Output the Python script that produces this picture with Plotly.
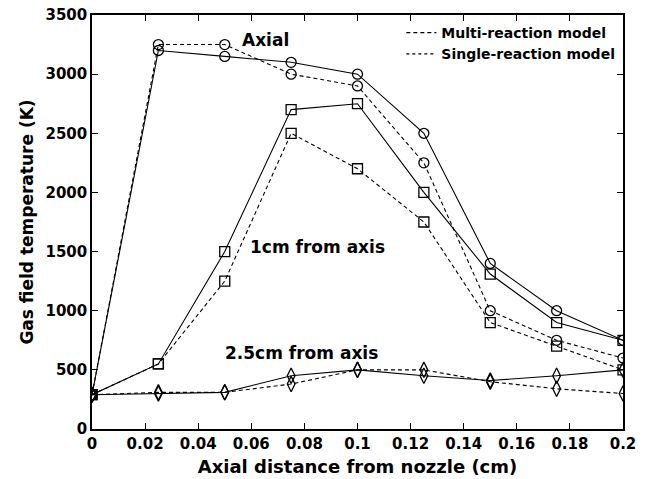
import plotly.graph_objects as go

x = [0, 0.025, 0.05, 0.075, 0.1, 0.125, 0.15, 0.175, 0.2]
axial_single = [290, 3200, 3150, 3100, 3000, 2500, 1400, 1000, 750]
axial_multi = [290, 3250, 3250, 3000, 2900, 2250, 1000, 750, 600]
cm1_single = [290, 550, 1500, 2700, 2750, 2000, 1310, 900, 750]
cm1_multi = [290, 550, 1250, 2500, 2200, 1750, 900, 700, 500]
cm25_single = [290, 300, 310, 450, 500, 450, 410, 450, 500]
cm25_multi = [290, 310, 310, 380, 500, 500, 400, 340, 300]

labels = [("Axial", 0.0652, 3290), ("1cm from axis", 0.085, 1540), ("2.5cm from axis", 0.079, 645)]

FONT = "DejaVu Sans"
DASH = "4px,3px"
fig = go.Figure()

def add(y, sym, dash, size):
    fig.add_trace(go.Scatter(
        x=x, y=y, mode="lines+markers", showlegend=False,
        line=dict(color="black", width=1.1, dash=dash),
        marker=dict(symbol=sym, size=size, color="black",
                    line=dict(color="black", width=1.3)),
    ))

add(axial_multi, "circle-open", DASH, 10)
add(axial_single, "circle-open", "solid", 10)
add(cm1_multi, "square-open", DASH, 10)
add(cm1_single, "square-open", "solid", 10)
add(cm25_multi, "diamond-tall-open", DASH, 11)
add(cm25_single, "diamond-tall-open", "solid", 11)

fig.add_trace(go.Scatter(x=[None], y=[None], mode="lines", name="Multi-reaction model",
                         line=dict(color="black", width=1.1, dash=DASH)))
fig.add_trace(go.Scatter(x=[None], y=[None], mode="lines", name="Single-reaction model",
                         line=dict(color="black", width=1.4, dash="dot")))

for t, ax_, ay_ in labels:
    fig.add_annotation(x=ax_, y=ay_, text=t, showarrow=False,
                       font=dict(family=FONT, size=17, color="black", weight="bold"))

axis_common = dict(showline=True, linecolor="black", linewidth=1.5, mirror="ticks",
                   ticks="inside", ticklen=6, tickcolor="black", tickwidth=1.2,
                   showgrid=False, zeroline=False, automargin=False,
                   tickfont=dict(family=FONT, size=15, color="black", weight="bold"))

fig.update_layout(
    width=648, height=479,
    margin=dict(l=92, r=25, t=15, b=50),
    paper_bgcolor="white", plot_bgcolor="white",
    xaxis=dict(range=[0, 0.2], tickvals=[0, 0.02, 0.04, 0.06, 0.08, 0.1, 0.12, 0.14, 0.16, 0.18, 0.2],
               ticktext=["0", "0.02", "0.04", "0.06", "0.08", "0.1", "0.12", "0.14", "0.16", "0.18", "0.2"],
               title=dict(text="Axial distance from nozzle (cm)", standoff=9,
                          font=dict(family=FONT, size=18, color="black", weight="bold")),
               **axis_common),
    yaxis=dict(range=[0, 3500], tickvals=[0, 500, 1000, 1500, 2000, 2500, 3000, 3500],
               title=dict(text="Gas field temperature (K)", standoff=8,
                          font=dict(family=FONT, size=17, color="black", weight="bold")),
               **axis_common),
    legend=dict(x=0.995, xanchor="right", y=0.995, yanchor="top", bgcolor="rgba(0,0,0,0)",
                font=dict(family=FONT, size=14, color="black", weight="bold"),
                tracegroupgap=0, itemwidth=30),
)

fig.write_html("out.html")
